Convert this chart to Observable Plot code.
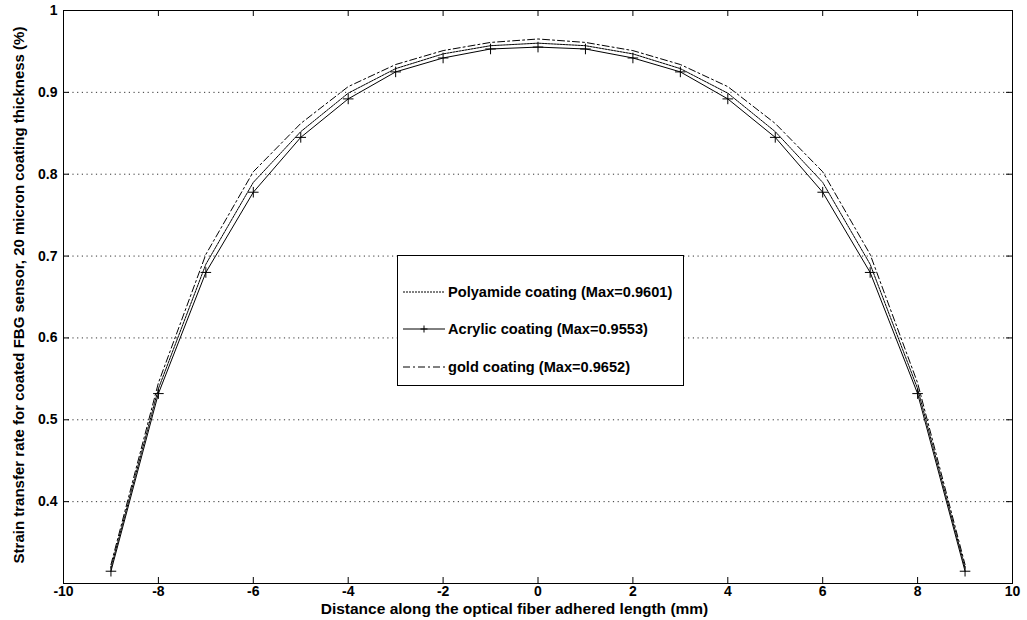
<!DOCTYPE html>
<html>
<head>
<meta charset="utf-8">
<script src="https://cdn.jsdelivr.net/npm/d3@7"></script>
<script src="https://cdn.jsdelivr.net/npm/@observablehq/plot@0.6"></script>
<style>
  html, body { margin: 0; padding: 0; background: #fff; }
  #wrap { position: relative; width: 1027px; height: 620px; font-family: "Liberation Sans", Arial, sans-serif; }
  #legend { position: absolute; left: 397px; top: 255px; width: 287px; height: 131px; border: 1px solid #000; background: #fff; box-sizing: border-box; }
  .item { position: absolute; left: 5px; display: flex; align-items: center; font-weight: bold; font-size: 14.6px; color: #000; white-space: nowrap; }
  .item svg { margin-right: 3px; }
</style>
</head>
<body>
<div id="wrap"></div>
<script>
const xs = [-9, -8, -7, -6, -5, -4, -3, -2, -1, 0, 1, 2, 3, 4, 5, 6, 7, 8, 9];
const polyamide = [0.319, 0.538, 0.690, 0.790, 0.852, 0.899, 0.929, 0.947, 0.957, 0.9601, 0.957, 0.947, 0.929, 0.899, 0.852, 0.790, 0.690, 0.538, 0.319];
const acrylic   = [0.315, 0.532, 0.680, 0.778, 0.845, 0.892, 0.925, 0.942, 0.953, 0.9553, 0.953, 0.942, 0.925, 0.892, 0.845, 0.778, 0.680, 0.532, 0.315];
const gold      = [0.323, 0.545, 0.702, 0.803, 0.862, 0.907, 0.934, 0.951, 0.961, 0.9652, 0.961, 0.951, 0.934, 0.907, 0.862, 0.803, 0.702, 0.545, 0.323];
const seriesNames = ["Polyamide coating (Max=0.9601)", "Acrylic coating (Max=0.9553)", "gold coating (Max=0.9652)"];
const xTicks = [-10, -8, -6, -4, -2, 0, 2, 4, 6, 8, 10];
const yTicks = [0.4, 0.5, 0.6, 0.7, 0.8, 0.9, 1];
const xLabel = "Distance along the optical fiber adhered length (mm)";
const yLabel = "Strain transfer rate for coated FBG sensor, 20 micron coating thickness (%)";

const rows = (vals) => xs.map((x, i) => ({x, y: vals[i]}));
const fmt = d => String(+d.toFixed(1));

const W = 1027, H = 620, ML = 63, MR = 15, MT = 10, MB = 37;
const plotW = W - ML - MR, plotH = H - MT - MB, TICK = 6;

const chart = Plot.plot({
  width: W,
  height: H,
  marginLeft: ML,
  marginRight: MR,
  marginTop: MT,
  marginBottom: MB,
  style: {fontFamily: "Liberation Sans, Arial, sans-serif", fontSize: "14px", fontWeight: "bold", background: "#fff", color: "#000"},
  x: {domain: [-10, 10]},
  y: {domain: [0.3, 1]},
  marks: [
    Plot.gridY(yTicks, {stroke: "#000", strokeOpacity: 0.8, strokeDasharray: "1.2,3.5"}),
    // inward tick marks on all four sides
    Plot.tickX(xTicks, {x: d => d, stroke: "#000", insetTop: plotH - TICK}),
    Plot.tickX(xTicks, {x: d => d, stroke: "#000", insetBottom: plotH - TICK}),
    Plot.tickY(yTicks, {y: d => d, stroke: "#000", insetRight: plotW - TICK}),
    Plot.tickY(yTicks, {y: d => d, stroke: "#000", insetLeft: plotW - TICK}),
    Plot.line(rows(polyamide), {x: "x", y: "y", stroke: "#000", strokeWidth: 1, strokeDasharray: "2,1"}),
    Plot.line(rows(acrylic), {x: "x", y: "y", stroke: "#000", strokeWidth: 1}),
    Plot.dot(rows(acrylic), {x: "x", y: "y", symbol: "plus", r: 3.5, stroke: "#000", strokeWidth: 1}),
    Plot.line(rows(gold), {x: "x", y: "y", stroke: "#000", strokeWidth: 1, strokeDasharray: "7,3,2,3"}),
    Plot.axisX(xTicks, {anchor: "bottom", tickSize: 0, tickPadding: 3, tickFormat: d => String(d), label: null, fontSize: 14, fontWeight: "bold"}),
    Plot.axisY(yTicks, {anchor: "left", tickSize: 0, tickPadding: 6, tickFormat: fmt, label: null, fontSize: 14, fontWeight: "bold"}),
    Plot.frame({stroke: "#000", strokeWidth: 1})
  ]
});

const wrap = document.getElementById("wrap");
wrap.appendChild(chart);
const svg = d3.select(chart);

// axis titles
svg.append("text")
  .attr("x", (ML + W - MR) / 2 - 23).attr("y", 614)
  .attr("text-anchor", "middle")
  .attr("font-size", 15.5).attr("font-weight", "bold").attr("fill", "#000")
  .text(xLabel);
svg.append("text")
  .attr("transform", `translate(24, ${(25 + 565) / 2}) rotate(-90)`)
  .attr("text-anchor", "middle")
  .attr("font-size", 15).attr("font-weight", "bold").attr("fill", "#000")
  .text(yLabel);

// legend
const legend = document.createElement("div");
legend.id = "legend";
const styles = [
  {dash: "2,1", marker: false},
  {dash: null, marker: true},
  {dash: "7,3,2,3", marker: false}
];
const tops = [37, 74, 112];
seriesNames.forEach((name, i) => {
  const item = document.createElement("div");
  item.className = "item";
  item.style.top = (tops[i] - 9) + "px";
  const s = d3.create("svg").attr("width", 42).attr("height", 12);
  s.append("line").attr("x1", 0).attr("x2", 42).attr("y1", 6).attr("y2", 6)
    .attr("stroke", "#000").attr("stroke-width", 1)
    .attr("stroke-dasharray", styles[i].dash);
  if (styles[i].marker) {
    s.append("path").attr("d", "M21,2.5V9.5M17.5,6H24.5").attr("stroke", "#000").attr("stroke-width", 1);
  }
  item.appendChild(s.node());
  const t = document.createElement("span");
  t.textContent = name;
  item.appendChild(t);
  legend.appendChild(item);
});
wrap.appendChild(legend);
</script>
</body>
</html>
